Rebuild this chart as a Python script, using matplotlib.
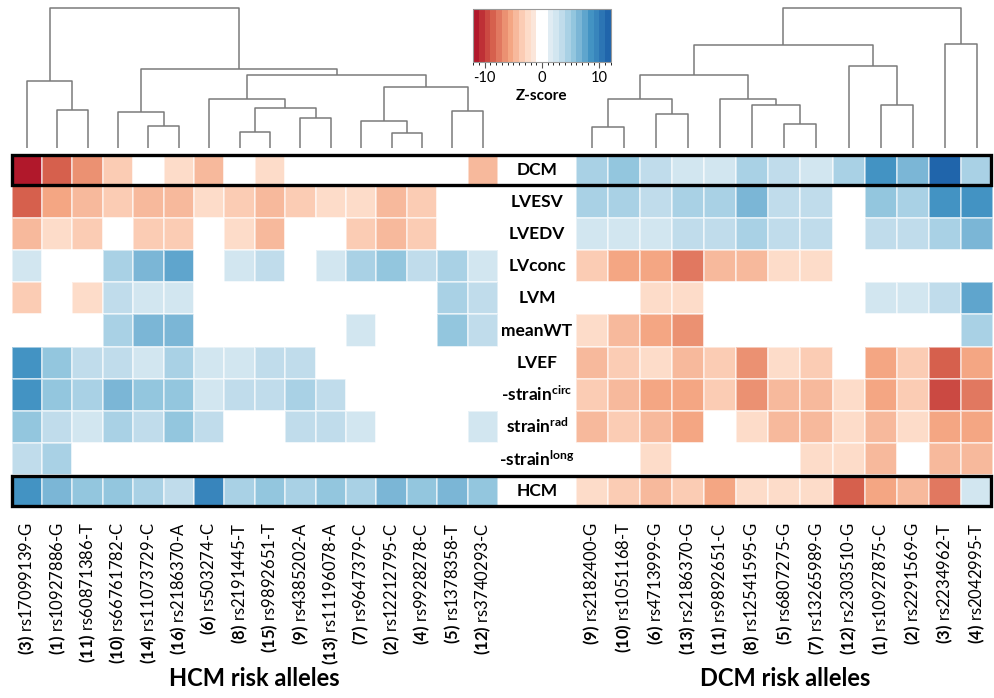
import numpy as np
import matplotlib
matplotlib.use('Agg')
import matplotlib.pyplot as plt
from matplotlib.colors import ListedColormap, BoundaryNorm
from matplotlib.patches import Rectangle
from matplotlib.transforms import blended_transform_factory
import matplotlib.cm as cm

plt.rcParams['font.family'] = ['Lato', 'DejaVu Sans']
plt.rcParams['mathtext.fontset'] = 'custom'
plt.rcParams['mathtext.rm'] = 'Lato'
plt.rcParams['mathtext.bf'] = 'Lato:bold'
plt.rcParams['mathtext.it'] = 'Lato:italic'

# ---------------- data ----------------
traits = ['DCM', 'LVESV', 'LVEDV', 'LVconc', 'LVM', 'meanWT', 'LVEF',
          '-strain$^{\\mathbf{circ}}$', 'strain$^{\\mathbf{rad}}$',
          '-strain$^{\\mathbf{long}}$', 'HCM']

hcm_num = ['3', '1', '11', '10', '14', '16', '6', '8', '15', '9', '13', '7', '2', '4', '5', '12']
hcm_snp = ['rs17099139-G', 'rs10927886-G', 'rs60871386-T', 'rs66761782-C', 'rs11073729-C',
           'rs2186370-A', 'rs503274-C', 'rs2191445-T', 'rs9892651-T', 'rs4385202-A',
           'rs11196078-A', 'rs9647379-C', 'rs12212795-C', 'rs9928278-C', 'rs1378358-T',
           'rs3740293-C']
dcm_num = ['9', '10', '6', '13', '11', '8', '5', '7', '12', '1', '2', '3', '4']
dcm_snp = ['rs2182400-G', 'rs1051168-T', 'rs4713999-G', 'rs2186370-G', 'rs9892651-C',
           'rs12541595-G', 'rs6807275-G', 'rs13265989-G', 'rs2303510-G', 'rs10927875-C',
           'rs2291569-G', 'rs2234962-T', 'rs2042995-T']

# Z-scores, rows = traits, columns = HCM risk alleles
hcm_z = [
    [-11.5, -8.6, -6.6, -3.6, 0, -2.6, -4.6, 0, -2.6, 0, 0, 0, 0, 0, 0, -4.6],
    [-8.6, -5.6, -4.6, -3.6, -4.6, -4.6, -2.6, -3.6, -4.6, -3.6, -2.6, -2.6, -4.6, -3.6, 0, 0],
    [-4.6, -2.6, -3.6, 0, -3.6, -3.6, 0, -2.6, -4.6, 0, 0, -3.6, -4.6, -3.6, 0, 0],
    [2.6, 0, 0, 4.6, 6.6, 7.6, 0, 2.6, 3.6, 0, 2.6, 4.6, 5.6, 3.6, 4.6, 2.6],
    [-3.6, 0, -2.6, 3.6, 2.6, 2.6, 0, 0, 0, 0, 0, 0, 0, 0, 4.6, 3.6],
    [0, 0, 0, 4.6, 6.6, 6.6, 0, 0, 0, 0, 0, 2.6, 0, 0, 5.6, 3.6],
    [8.6, 5.6, 3.6, 3.6, 2.6, 4.6, 2.6, 2.6, 3.6, 3.6, 0, 0, 0, 0, 0, 0],
    [8.6, 5.6, 4.6, 6.6, 5.6, 5.6, 2.6, 3.6, 3.6, 4.6, 3.6, 0, 0, 0, 0, 0],
    [5.6, 3.6, 2.6, 4.6, 3.6, 5.6, 3.6, 0, 0, 3.6, 3.6, 2.6, 0, 0, 0, 2.6],
    [3.6, 4.6, 0, 0, 0, 0, 0, 0, 0, 0, 0, 0, 0, 0, 0, 0],
    [8.6, 6.6, 5.6, 5.6, 4.6, 3.6, 9.6, 4.6, 5.6, 4.6, 5.6, 4.6, 6.6, 5.6, 6.6, 5.6],
]

# Z-scores, rows = traits, columns = DCM risk alleles
dcm_z = [
    [4.6, 5.6, 3.6, 2.6, 2.6, 4.6, 3.6, 2.6, 4.6, 8.6, 6.6, 11.5, 4.6],
    [4.6, 4.6, 3.6, 4.6, 4.6, 6.6, 3.6, 3.6, 0, 5.6, 4.6, 8.6, 8.6],
    [2.6, 2.6, 2.6, 3.6, 3.6, 4.6, 3.6, 3.6, 0, 3.6, 3.6, 4.6, 6.6],
    [-3.6, -5.6, -5.6, -7.6, -4.6, -4.6, -2.6, -2.6, 0, 0, 0, 0, 0],
    [0, 0, -2.6, -2.6, 0, 0, 0, 0, 0, 2.6, 2.6, 3.6, 7.6],
    [-2.6, -4.6, -5.6, -6.6, 0, 0, 0, 0, 0, 0, 0, 0, 4.6],
    [-4.6, -3.6, -2.6, -4.6, -3.6, -6.6, -2.6, -3.6, 0, -5.6, -3.6, -8.6, -5.6],
    [-3.6, -4.6, -5.6, -5.6, -3.6, -6.6, -4.6, -4.6, -2.6, -5.6, -3.6, -9.6, -7.6],
    [-4.6, -3.6, -4.6, -5.6, 0, -2.6, -4.6, -4.6, -2.6, -4.6, -2.6, -5.6, -5.6],
    [0, 0, -2.6, 0, 0, 0, 0, -2.6, -2.6, -4.6, 0, -4.6, -4.6],
    [-2.6, -3.6, -4.6, -3.6, -5.6, -2.6, -2.6, -2.6, -8.6, -5.6, -4.6, -7.6, 2.6],
]

# dendrogram linkages: (cluster a, cluster b, merge height); clusters >= n are earlier merges
hcm_linkage = [
    (1, 2, 37.7), (0, 16, 66.7), (4, 5, 22.3), (3, 18, 35.7), (7, 8, 16.3),
    (9, 10, 30.3), (20, 21, 40.0), (6, 22, 49.3), (12, 13, 15.0), (11, 24, 27.3),
    (14, 15, 36.7), (25, 26, 60.7), (23, 27, 72.7), (19, 28, 79.3), (17, 29, 139.7),
]
dcm_linkage = [
    (0, 1, 21.3), (2, 3, 34.3), (13, 14, 48.7), (6, 7, 24.3), (5, 16, 42.7),
    (4, 17, 49.3), (15, 18, 72.7), (9, 10, 42.7), (8, 20, 81.7), (19, 21, 103.0),
    (11, 12, 104.3), (22, 23, 139.7),
]

cbar_ticks = [-10, 0, 10]

# ---------------- colours ----------------
rdbu = plt.get_cmap('RdBu')
reds = [rdbu(p) for p in np.linspace(0.10, 0.44, 11)]
blues = [rdbu(p) for p in np.linspace(0.56, 0.90, 11)]
cmap = ListedColormap(reds + [(1, 1, 1, 1)] + blues)
bounds = list(range(-12, 0)) + list(range(1, 13))
norm = BoundaryNorm(bounds, cmap.N)

# ---------------- figure ----------------
W, H = 994, 698
fig = plt.figure(figsize=(W / 100, H / 100), dpi=100)


def rect(x0, y0, x1, y1):
    return [x0 / W, 1 - y1 / H, (x1 - x0) / W, (y1 - y0) / H]


ax_l = fig.add_axes(rect(11.7, 154, 498, 507))
ax_r = fig.add_axes(rect(575.7, 154, 993, 507))
dn_l = fig.add_axes(rect(11.7, 0, 498, 148))
dn_r = fig.add_axes(rect(575.7, 0, 993, 148))
cax = fig.add_axes(rect(473.3, 9.3, 610.7, 62.3))


def heat(ax, z, nums, snps):
    z = np.array(z, dtype=float)
    nr, nc = z.shape
    ax.pcolormesh(np.arange(nc + 1), np.arange(nr + 1), z, cmap=cmap, norm=norm,
                  edgecolors=(1, 1, 1, 0.5), linewidth=0.3)
    ax.set_xlim(0, nc)
    ax.set_ylim(nr, 0)
    for s in ax.spines.values():
        s.set_visible(False)
    ax.set_yticks([])
    ax.set_xticks(np.arange(nc) + 0.5)
    ax.set_xticklabels([rf"$\mathbf{{({n})}}$ {s}" for n, s in zip(nums, snps)],
                       rotation=90, fontsize=12)
    ax.tick_params(axis='x', length=0, pad=11)


heat(ax_l, hcm_z, hcm_num, hcm_snp)
heat(ax_r, dcm_z, dcm_num, dcm_snp)


def dendro(ax, links, n):
    xp = {i: i + 0.5 for i in range(n)}
    yp = {i: 0.0 for i in range(n)}
    for k, (a, b, h) in enumerate(links):
        ax.plot([xp[a], xp[a], xp[b], xp[b]], [yp[a], h, h, yp[b]],
                color='#7a7a7a', lw=1.1, solid_capstyle='butt')
        xp[n + k] = (xp[a] + xp[b]) / 2
        yp[n + k] = h
    ax.set_xlim(0, n)
    ax.set_ylim(0, 148)
    ax.axis('off')


dendro(dn_l, hcm_linkage, len(hcm_num))
dendro(dn_r, dcm_linkage, len(dcm_num))

# trait labels in the middle
tr = blended_transform_factory(ax_l.transAxes, ax_l.transData)
for i, t in enumerate(traits):
    ax_l.text((537 - 11.7) / 486.3, i + 0.5, t, transform=tr, ha='center', va='center',
              fontsize=12.5, fontweight='bold')

# black boxes around DCM and HCM rows
pl = ax_l.get_position()
pr = ax_r.get_position()
rowh = pl.height / len(traits)
for r in [0, len(traits) - 1]:
    top = pl.y1 - r * rowh
    box = Rectangle((pl.x0, top - rowh + 1.0 / H), pr.x1 - pl.x0 - 2.5 / W, rowh - 2.0 / H,
                    transform=fig.transFigure, fill=False, ec='black', lw=2.4,
                    clip_on=False, zorder=10)
    fig.add_artist(box)

# colorbar
sm = cm.ScalarMappable(norm=norm, cmap=cmap)
cb = fig.colorbar(sm, cax=cax, orientation='horizontal', ticks=cbar_ticks,
                  spacing='proportional')
cb.outline.set_edgecolor('#9a9a9a')
cb.outline.set_linewidth(0.8)
cax.tick_params(labelsize=10.5, length=4, color='#555555', pad=2)
cax.set_xticklabels(['-10', '0', '10'])
cb.set_label('Z-score', fontsize=11, fontweight='bold', labelpad=3)

# group titles
fig.text(254 / W, 1 - 679 / H, 'HCM risk alleles', ha='center', va='center',
         fontsize=17, fontweight='bold')
fig.text(785 / W, 1 - 679 / H, 'DCM risk alleles', ha='center', va='center',
         fontsize=17, fontweight='bold')

fig.savefig('out.png', dpi=100)
